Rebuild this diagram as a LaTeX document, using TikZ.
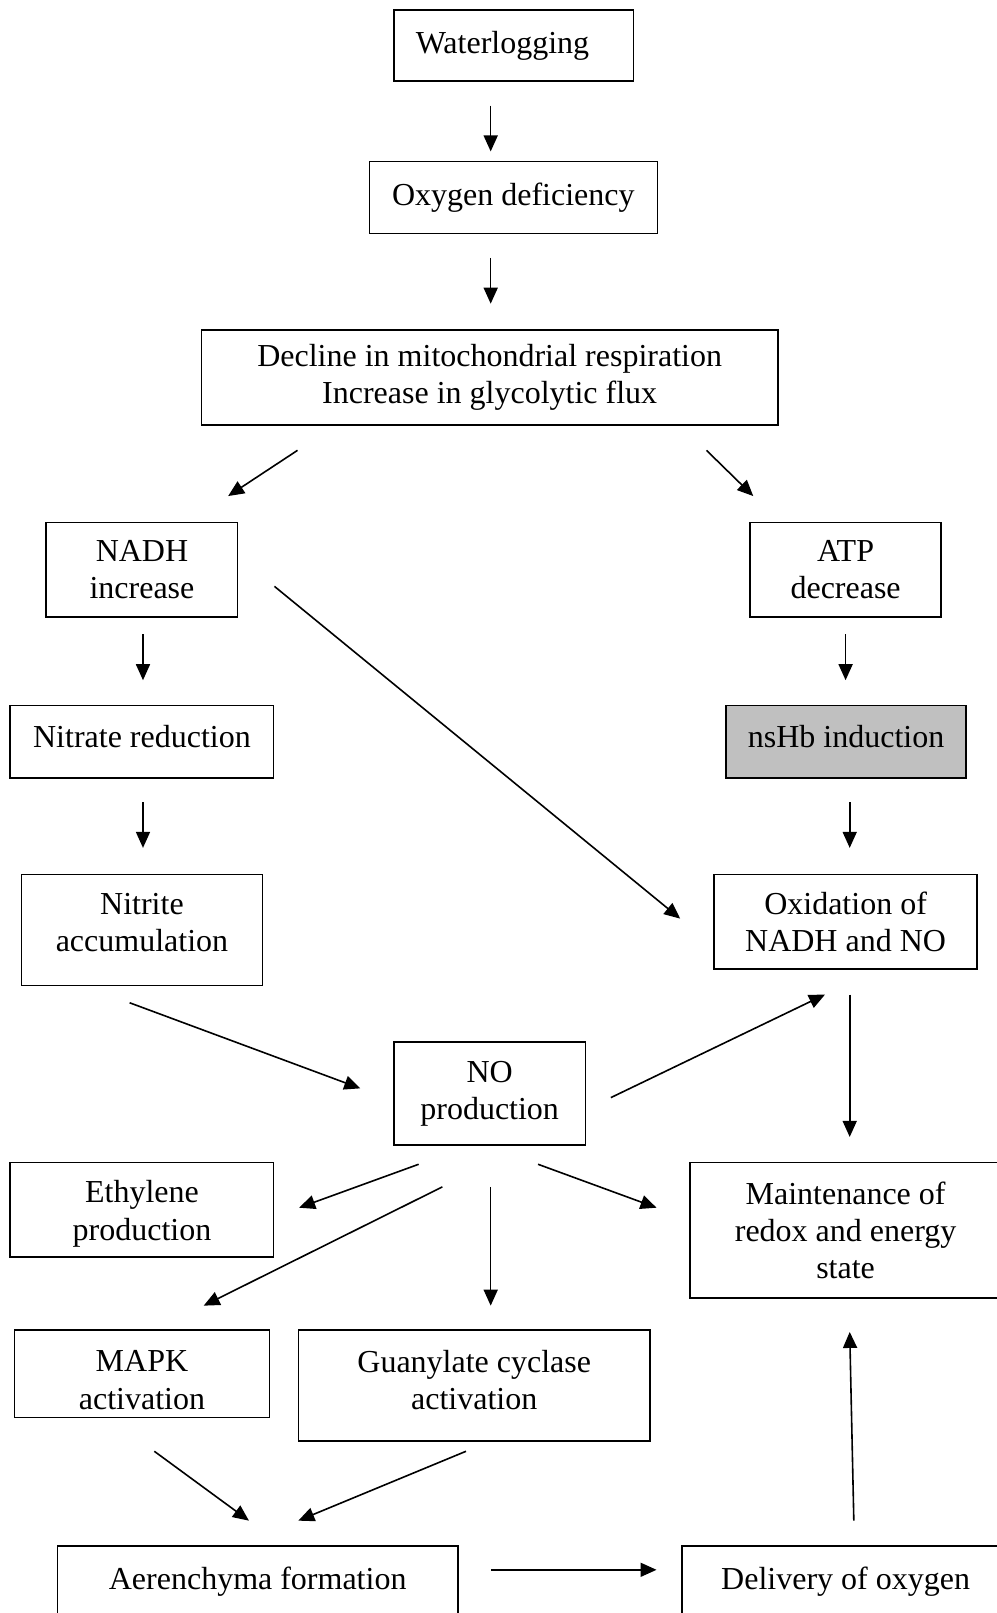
\documentclass[tikz,border=0pt]{standalone}
\usepackage{fontspec}
\setmainfont{Liberation Serif}
\usepackage{xcolor}
\usetikzlibrary{arrows.meta,calc}
\definecolor{nsgray}{RGB}{192,192,192}
\def\px{0.7717pt}
\newcommand{\liftby}[1]{\rule[-#1]{0pt}{#1}}
\newcommand{\dropto}[1]{\rule{0pt}{#1}}

\begin{document}
\begin{tikzpicture}[
  x=\px, y=-\px,
  font=\fontsize{24}{28}\selectfont,
  box/.style 2 args={draw,line width=1.2pt,align=center,inner sep=0pt,
    minimum width=#1*\px,minimum height=#2*\px},
  arr/.style={->,line width=1.2pt},
  >={Triangle[length=12pt,width=10.5pt]}
]
\path[use as bounding box,fill=white] (0,0) rectangle (969,1568);
\node[box={233}{69}] (water) at (499.5,44.5) {Waterlogging\hspace*{17pt}\liftby{3pt}};
\node[box={280}{70}] (oxygen) at (499,192) {Oxygen deficiency};
\node[box={560}{92}] (decline) at (476,367) {Decline in mitochondrial respiration\\Increase in glycolytic flux};
\node[box={186}{92}] (nadh) at (138,554) {NADH\\increase};
\node[box={186}{92}] (atp) at (822,554) {ATP\\decrease};
\node[box={256}{70}] (nitrate) at (138,721) {Nitrate reduction\liftby{8pt}};
\node[box={233}{70},fill=nsgray] (nshb) at (822.5,721) {nsHb induction\liftby{8pt}};
\node[box={234}{108}] (nitrite) at (138,904) {Nitrite\\accumulation\liftby{11pt}};
\node[box={256}{92}] (oxid) at (822,896) {Oxidation of\\NADH and NO};
\node[box={186}{100}] (no) at (476,1063) {NO\\production};
\node[box={256}{92}] (ethyl) at (138,1176) {\dropto{22.5pt}Ethylene\\production};
\node[box={302}{132}] (redox) at (822,1196) {Maintenance of\\redox and energy\\state};
\node[box={248}{85}] (mapk) at (138,1335.5) {\dropto{25pt}MAPK\\activation};
\node[box={342}{108}] (guan) at (461,1347) {Guanylate cyclase\\activation\liftby{9pt}};
\node[box={389}{70}] (aeren) at (250.5,1538) {Aerenchyma formation};
\node[box={318}{70}] (deliv) at (822,1538) {Delivery of oxygen};

\draw[arr] ($(water.south)+(-22.5,23)$) -- ($(oxygen.north)+(-22,-9)$);
\draw[arr] ($(oxygen.south)+(-22,23)$) -- ($(decline.north)+(1,-25)$);
\draw[arr] ($(decline.south west)+(94,24)$) -- ($(nadh.north east)+(-10,-25)$);
\draw[arr] ($(decline.south east)+(-70,24)$) -- ($(atp.north west)+(4,-25)$);
\draw[arr] ($(nadh.south)+(1,16)$) -- ($(nitrate.north)+(1,-24)$);
\draw[arr] ($(atp.south)+(0,16)$) -- ($(nshb.north)+(-0.5,-24)$);
\draw[arr] ($(nitrate.south)+(1,23)$) -- ($(nitrite.north)+(1,-25)$);
\draw[arr] ($(nshb.south)+(3.5,23)$) -- ($(oxid.north)+(4,-25)$);
\draw[arr] ($(nadh.east)+(35,16)$) -- ($(oxid.west)+(-32,-3)$);
\draw[arr] ($(nitrite.south)+(-12,16)$) -- ($(no.west)+(-32,-5)$);
\draw[arr] ($(no.east)+(24,4)$) -- ($(oxid.south)+(-20,24)$);
\draw[arr] ($(oxid.south)+(4,24)$) -- ($(redox.north)+(4,-24)$);
\draw[arr] ($(no.south)+(-69,18)$) -- ($(ethyl.east)+(24,-2)$);
\draw[arr] ($(no.south)+(-46,40)$) -- ($(mapk.north)+(60,-23)$);
\draw[arr] ($(no.south)+(1,40)$) -- ($(guan.north)+(16,-23)$);
\draw[arr] ($(no.south)+(47,18)$) -- ($(redox.west)+(-32,-22)$);
\draw[arr] ($(mapk.south)+(12,32)$) -- ($(aeren.north)+(-8.5,-24)$);
\draw[arr] ($(guan.south)+(-8,9)$) -- ($(aeren.north)+(39.5,-24)$);
\draw[arr] ($(aeren.east)+(32,-12)$) -- ($(deliv.west)+(-24,-12)$);
\draw[arr] ($(deliv.north)+(8,-24)$) -- ($(redox.south)+(4,32)$);
\end{tikzpicture}
\end{document}
